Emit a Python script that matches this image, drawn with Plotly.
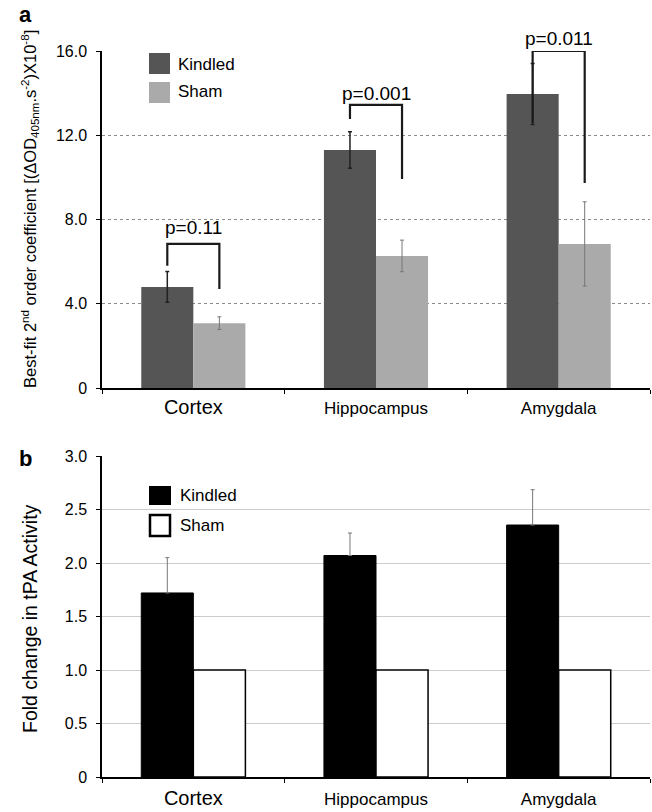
import plotly.graph_objects as go

# ---------------- data ----------------
categories = ["Cortex", "Hippocampus", "Amygdala"]
tick_label_sizes = [20, 17, 17]

# panel a: best-fit 2nd order coefficient
kindled_a = [4.8, 11.3, 13.96]
kindled_a_err = [0.73, 0.87, 1.45]
sham_a = [3.08, 6.27, 6.84]
sham_a_err = [0.30, 0.75, 2.0]

# significance brackets (panel a)
p_labels = ["p=0.11", "p=0.001", "p=0.011"]
bracket_left_bottom = [5.8, 12.77, 12.58]
bracket_top = [6.84, 13.44, 16.0]
bracket_right_bottom = [4.7, 9.92, 9.73]
p_label_y = [7.62, 13.98, 16.6]

# panel b: fold change in tPA activity
kindled_b = [1.72, 2.07, 2.355]
kindled_b_err = [0.33, 0.21, 0.33]
sham_b = [1.0, 1.0, 1.0]

yticks_a = [0, 4, 8, 12, 16]
yticks_a_text = ["0", "4.0", "8.0", "12.0", "16.0"]
yticks_b = [0, 0.5, 1.0, 1.5, 2.0, 2.5, 3.0]
yticks_b_text = ["0", "0.5", "1.0", "1.5", "2.0", "2.5", "3.0"]

# ---------------- figure ----------------
W, H = 652, 812
FONT = "Arial, Liberation Sans, Helvetica, sans-serif"
BARGAP = 0.43
OFF = (1 - BARGAP) / 4  # center offset of each bar in a pair


def px(x):
    return x / W


def py(y):
    return 1 - y / H


ticktext = [f"<span style='font-size:{s}px'>{c}</span>" for c, s in zip(categories, tick_label_sizes)]

fig = go.Figure()

fig.add_trace(go.Bar(
    x=categories, y=kindled_a, name="Kindled", xaxis="x", yaxis="y",
    marker=dict(color="#555555", line=dict(width=0)),
    error_y=dict(type="data", array=kindled_a_err, color="#222222", thickness=1.5, width=2),
    showlegend=False,
))
fig.add_trace(go.Bar(
    x=categories, y=sham_a, name="Sham", xaxis="x", yaxis="y",
    marker=dict(color="#aaaaaa", line=dict(width=0)),
    error_y=dict(type="data", array=sham_a_err, color="#777777", thickness=1, width=2),
    showlegend=False,
))
fig.add_trace(go.Bar(
    x=categories, y=kindled_b, name="Kindled", xaxis="x2", yaxis="y2",
    marker=dict(color="#000000", line=dict(color="#000000", width=1)),
    error_y=dict(type="data", symmetric=False, array=kindled_b_err,
                 arrayminus=[0] * len(kindled_b_err), color="#777777", thickness=1, width=2),
    showlegend=False,
))
fig.add_trace(go.Bar(
    x=categories, y=sham_b, name="Sham", xaxis="x2", yaxis="y2",
    marker=dict(color="#ffffff", line=dict(color="#000000", width=1.5)),
    showlegend=False,
))

xdom = [px(102), px(650)]
dom_a = [py(388), py(51)]
dom_b = [py(777), py(456)]

xaxis_common = dict(
    type="category", range=[-0.5, 2.5], showline=True, linecolor="#000000", linewidth=1.5,
    ticks="outside", tickson="boundaries", ticklen=4, tickcolor="#000000",
    tickmode="array", tickvals=categories, ticktext=ticktext,
    tickfont=dict(family=FONT, size=17, color="#000000"),
    showgrid=False, zeroline=False, automargin=False, fixedrange=True,
)

fig.update_layout(
    width=W, height=H,
    margin=dict(l=0, r=0, t=0, b=0),
    paper_bgcolor="#ffffff", plot_bgcolor="#ffffff",
    barmode="group", bargap=BARGAP, bargroupgap=0,
    showlegend=False,
    font=dict(family=FONT, color="#000000"),
    xaxis=dict(domain=xdom, anchor="y", ticklabelstandoff=4, **xaxis_common),
    xaxis2=dict(domain=xdom, anchor="y2", ticklabelstandoff=6, **xaxis_common),
    yaxis=dict(
        domain=dom_a, anchor="x", range=[0, 16], showline=True, linecolor="#000000", linewidth=1.5,
        ticks="outside", ticklen=4, tickcolor="#000000",
        tickmode="array", tickvals=yticks_a, ticktext=yticks_a_text,
        tickfont=dict(family=FONT, size=16, color="#000000"), ticklabelstandoff=6,
        showgrid=True, gridcolor="#8a8a8a", griddash="dot", gridwidth=1,
        zeroline=False, automargin=False, fixedrange=True,
    ),
    yaxis2=dict(
        domain=dom_b, anchor="x2", range=[0, 3], showline=True, linecolor="#000000", linewidth=1.5,
        ticks="outside", ticklen=4, tickcolor="#000000",
        tickmode="array", tickvals=yticks_b, ticktext=yticks_b_text,
        tickfont=dict(family=FONT, size=16, color="#000000"), ticklabelstandoff=6,
        showgrid=True, gridcolor="#cccccc", gridwidth=1.2,
        zeroline=False, automargin=False, fixedrange=True,
    ),
)

shapes = []
annotations = []

# significance brackets
for i, (lb, top, rb, lab, ly) in enumerate(zip(bracket_left_bottom, bracket_top,
                                               bracket_right_bottom, p_labels, p_label_y)):
    xl, xr = i - OFF, i + OFF
    path = f"M {xl},{lb} L {xl},{top} L {xr},{top} L {xr},{rb}"
    shapes.append(dict(type="path", path=path, xref="x", yref="y",
                       line=dict(color="#1a1a1a", width=2.2)))
    annotations.append(dict(x=i, y=ly / 16.0, xref="x", yref="y domain", text=lab, showarrow=False,
                            font=dict(family=FONT, size=19, color="#000000"),
                            xanchor="center", yanchor="middle"))

# legends (manual, to match large swatches)
legend_items = [
    # (x0, y0, x1, y1, fill, line color, line width, label, text x, text y)
    (149, 53, 170, 74, "#555555", "#555555", 0, "Kindled", 176, 64),
    (149, 82, 170, 103, "#aaaaaa", "#aaaaaa", 0, "Sham", 176, 92),
    (149, 486, 171, 505, "#000000", "#000000", 0, "Kindled", 178, 495),
    (150, 515, 170, 536, "#ffffff", "#000000", 2.5, "Sham", 178, 525),
]
for x0, y0, x1, y1, fill, lc, lw, lab, tx, ty in legend_items:
    shapes.append(dict(type="rect", xref="paper", yref="paper",
                       x0=px(x0), x1=px(x1), y0=py(y1), y1=py(y0),
                       fillcolor=fill, line=dict(color=lc, width=lw)))
    annotations.append(dict(x=px(tx), y=py(ty), xref="paper", yref="paper", text=lab,
                            showarrow=False, xanchor="left", yanchor="middle",
                            font=dict(family=FONT, size=17, color="#000000")))

# axis titles
annotations.append(dict(
    x=px(30), y=py(209), xref="paper", yref="paper", textangle=-90, showarrow=False,
    text="Best-fit 2<sup>nd</sup> order coefficient [(ΔOD<sub>405nm</sub>.s<sup>-2</sup>)X10<sup>-8</sup>]",
    font=dict(family=FONT, size=16.5, color="#000000"), xanchor="center", yanchor="middle",
))
annotations.append(dict(
    x=px(30), y=py(619), xref="paper", yref="paper", textangle=-90, showarrow=False,
    text="Fold change in tPA Activity",
    font=dict(family=FONT, size=19.5, color="#000000"), xanchor="center", yanchor="middle",
))

# panel labels
annotations.append(dict(x=px(25), y=py(14), xref="paper", yref="paper", text="<b>a</b>",
                        showarrow=False, font=dict(family=FONT, size=22, color="#000000"),
                        xanchor="center", yanchor="middle"))
annotations.append(dict(x=px(25), y=py(459), xref="paper", yref="paper", text="<b>b</b>",
                        showarrow=False, font=dict(family=FONT, size=22, color="#000000"),
                        xanchor="center", yanchor="middle"))

fig.update_layout(shapes=shapes, annotations=annotations)

fig.write_html("out.html", config={"displayModeBar": False})
